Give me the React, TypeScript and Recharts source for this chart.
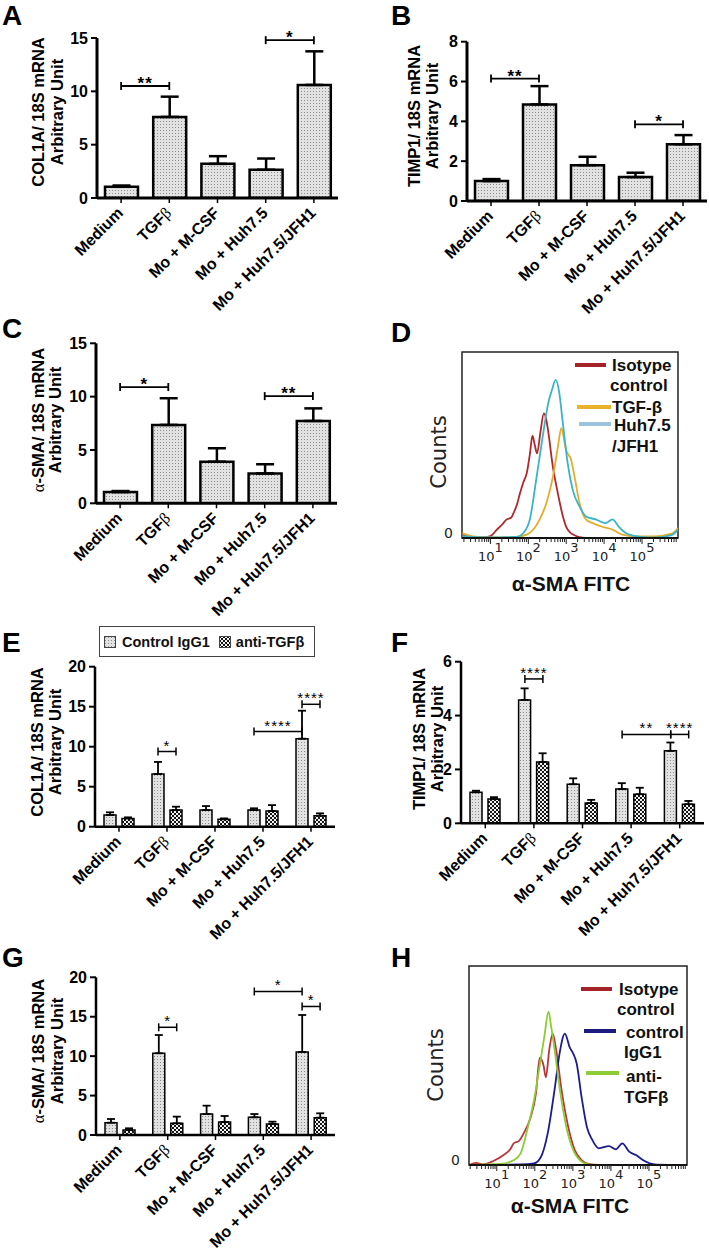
import React from 'react';
import {
  BarChart,
  Bar,
  XAxis,
  YAxis,
  ErrorBar,
  ReferenceLine,
  ReferenceArea,
  LineChart,
  Line,
  Legend,
} from 'recharts';

const SANS = '"Liberation Sans", Arial, Helvetica, sans-serif';
const FLOW = '"DejaVu Sans", Verdana, sans-serif';
const SERIF = '"Liberation Serif", "Times New Roman", serif';

// ---------- categories ----------
const categories = ['Medium', 'TGFβ', 'Mo + M-CSF', 'Mo + Huh7.5', 'Mo + Huh7.5/JFH1'];
const categoryPositions = [1, 2, 3, 4, 5];
const groupLabels = ['Control IgG1', 'anti-TGFβ'];

// ---------- Panel A : COL1A ----------
const col1aMean = [1.05, 7.6, 3.2, 2.65, 10.6];
const col1aSem = [0.12, 1.9, 0.72, 1.05, 3.15];
const col1aTicks = [0, 5, 10, 15];

// ---------- Panel B : TIMP1 ----------
const timp1Mean = [1.0, 4.85, 1.8, 1.2, 2.85];
const timp1Sem = [0.1, 0.92, 0.42, 0.22, 0.46];
const timp1Ticks = [0, 2, 4, 6, 8];

// ---------- Panel C : alpha-SMA ----------
const smaMean = [1.05, 7.35, 3.9, 2.8, 7.72];
const smaSem = [0.1, 2.5, 1.26, 0.86, 1.18];
const smaTicks = [0, 5, 10, 15];

// ---------- Panel E : COL1A +/- anti-TGFb ----------
const col1aIgG = [1.46, 6.58, 2.08, 2.08, 11.0];
const col1aIgGSem = [0.34, 1.52, 0.5, 0.22, 3.5];
const col1aAnti = [1.04, 2.08, 0.92, 1.96, 1.37];
const col1aAntiSem = [0.13, 0.42, 0.12, 0.74, 0.3];
const col1aTicksE = [0, 5, 10, 15, 20];

// ---------- Panel F : TIMP1 +/- anti-TGFb ----------
const timp1IgG = [1.15, 4.58, 1.45, 1.27, 2.69];
const timp1IgGSem = [0.06, 0.43, 0.22, 0.22, 0.31];
const timp1Anti = [0.9, 2.28, 0.75, 1.08, 0.71];
const timp1AntiSem = [0.07, 0.32, 0.12, 0.24, 0.12];
const timp1TicksF = [0, 2, 4, 6];

// ---------- Panel G : alpha-SMA +/- anti-TGFb ----------
const smaIgG = [1.56, 10.36, 2.66, 2.24, 10.53];
const smaIgGSem = [0.47, 2.32, 1.06, 0.42, 4.69];
const smaAnti = [0.63, 1.48, 1.65, 1.4, 2.2];
const smaAntiSem = [0.22, 0.85, 0.76, 0.29, 0.55];
const smaTicksG = [0, 5, 10, 15, 20];

// ---------- significance annotations ----------
type Sig = { from: number; to: number; fromBar?: number; toBar?: number; y: number; label: string };
const sigA: Sig[] = [
  { from: 0, to: 1, y: 10.5, label: '**' },
  { from: 3, to: 4, y: 14.8, label: '*' },
];
const sigB: Sig[] = [
  { from: 0, to: 1, y: 6.15, label: '**' },
  { from: 3, to: 4, y: 3.85, label: '*' },
];
const sigC: Sig[] = [
  { from: 0, to: 1, y: 10.9, label: '*' },
  { from: 3, to: 4, y: 10.05, label: '**' },
];
const sigE: Sig[] = [
  { from: 1, fromBar: 0, to: 1, toBar: 1, y: 9.4, label: '*' },
  { from: 3, fromBar: 0, to: 4, toBar: 0, y: 11.9, label: '****' },
  { from: 4, fromBar: 0, to: 4, toBar: 1, y: 15.3, label: '****' },
];
const sigF: Sig[] = [
  { from: 1, fromBar: 0, to: 1, toBar: 1, y: 5.36, label: '****' },
  { from: 3, fromBar: 0, to: 4, toBar: 0, y: 3.3, label: '**' },
  { from: 4, fromBar: 0, to: 4, toBar: 1, y: 3.3, label: '****' },
];
const sigG: Sig[] = [
  { from: 1, fromBar: 0, to: 1, toBar: 1, y: 13.66, label: '*' },
  { from: 3, fromBar: 0, to: 4, toBar: 0, y: 18.2, label: '*' },
  { from: 4, fromBar: 0, to: 4, toBar: 1, y: 16.3, label: '*' },
];

// ---------- flow cytometry histograms (x = log10 FITC, y = % of max) ----------
const flowDecades = [1, 2, 3, 4, 5];
const isotypeD = [[0.26, 1.5], [0.45, 0.6], [0.8, 0.3], [1.0, 1], [1.17, 4.5], [1.3, 7], [1.43, 10], [1.55, 11], [1.61, 13.4], [1.7, 18], [1.78, 24], [1.87, 30], [1.96, 35], [2.04, 45], [2.11, 55], [2.17, 50], [2.23, 45.5], [2.32, 57], [2.41, 67], [2.47, 64], [2.52, 58], [2.65, 38], [2.74, 28], [2.83, 19], [2.92, 11], [3.0, 6], [3.1, 3], [3.17, 2], [3.35, 0.5], [3.6, 0], [5.95, 0]];
const tgfD = [[0.26, 2.7], [0.4, 1.5], [0.7, 0.5], [1.2, 0.3], [1.61, 0.4], [1.96, 1.8], [2.3, 10], [2.48, 19], [2.65, 33], [2.78, 49], [2.87, 59], [3.0, 47], [3.13, 42], [3.22, 33], [3.35, 19], [3.52, 10], [3.7, 8], [3.96, 6], [4.22, 4.5], [4.48, 1.8], [4.83, 0.9], [5.3, 0.8], [5.78, 2.3], [5.95, 5.4]];
const jfh1D = [[0.26, 1], [0.6, 0.5], [1.2, 0.3], [1.5, 0.5], [1.7, 0.6], [1.87, 2.7], [2.04, 10], [2.22, 33], [2.39, 56], [2.52, 72], [2.63, 80], [2.72, 85], [2.81, 79], [2.91, 62], [3.04, 40], [3.17, 26], [3.35, 17], [3.52, 11.6], [3.78, 10], [4.04, 8], [4.22, 10], [4.39, 6], [4.57, 2.7], [4.83, 1], [5.26, 0.2], [5.78, 1.6], [5.95, 4.5]];

const isotypeH = [[0.27, 0], [0.46, 1], [0.64, 0.3], [0.91, 2], [1.18, 5], [1.36, 8], [1.45, 11], [1.58, 12], [1.71, 16], [1.89, 24], [2.03, 36], [2.13, 54], [2.23, 50], [2.29, 44], [2.38, 58], [2.47, 66], [2.56, 58], [2.7, 38], [2.88, 19], [3.05, 7.5], [3.23, 2.5], [3.41, 0.5], [3.68, 0], [6.0, 0]];
const igg1H = [[0.27, 0], [1.63, 0.3], [1.98, 0.8], [2.16, 4], [2.34, 16], [2.52, 38], [2.65, 56], [2.79, 66], [2.92, 59], [3.01, 56], [3.1, 51], [3.23, 34], [3.37, 19], [3.5, 13], [3.68, 8.4], [3.95, 9.5], [4.13, 7.9], [4.3, 10.9], [4.48, 6.7], [4.66, 5], [4.84, 2.5], [5.02, 0.8], [5.2, 0.2], [6.0, 0]];
const antiTgfH = [[0.27, 0], [1.09, 0.5], [1.45, 2.5], [1.63, 6], [1.8, 17.6], [1.98, 32.7], [2.12, 49], [2.25, 64.5], [2.36, 77], [2.43, 69.5], [2.52, 58], [2.65, 39], [2.83, 19], [3.01, 7.5], [3.23, 1.7], [3.41, 0.3], [3.7, 0], [6.0, 0]];

// ---------- helpers ----------
function richText(s: string) {
  return s
    .split(/([αβ])/)
    .filter((t) => t.length > 0)
    .map((t, i) =>
      /[αβ]/.test(t) ? (
        <tspan key={i} fontFamily={SERIF} fontWeight={400}>
          {t}
        </tspan>
      ) : (
        <tspan key={i}>{t}</tspan>
      ),
    );
}

const CategoryTick = (props: any) => {
  const { x, y, payload } = props;
  const name = categories[Math.round(payload.value) - 1] ?? '';
  return (
    <g transform={`translate(${x + 3},${y + 9}) rotate(-45)`}>
      <text x={0} y={0} textAnchor="end" fontFamily={SANS} fontSize={16} fontWeight={700} fill="#000">
        {richText(name)}
      </text>
    </g>
  );
};

const Bracket = (props: any) => {
  const { x1, y1, x2, label, bold, cap, sw, fs, lift } = props;
  if (x1 == null || y1 == null || x2 == null) return <g />;
  return (
    <g>
      <line x1={x1} y1={y1} x2={x2} y2={y1} stroke="#000" strokeWidth={sw} />
      <line x1={x1} y1={y1 - cap} x2={x1} y2={y1 + cap} stroke="#000" strokeWidth={sw} />
      <line x1={x2} y1={y1 - cap} x2={x2} y2={y1 + cap} stroke="#000" strokeWidth={sw} />
      <text
        x={(x1 + x2) / 2}
        y={y1 + lift}
        textAnchor="middle"
        fontFamily={SANS}
        fontSize={fs}
        fontWeight={bold ? 700 : 400}
        letterSpacing={1}
        fill="#000"
      >
        {label}
      </text>
    </g>
  );
};

const AxisTitle = ({ xs, cy, lines, fs }: any) => (
  <g>
    {lines.map((ln: string, i: number) => (
      <text
        key={i}
        transform={`translate(${xs[i]},${cy}) rotate(-90)`}
        textAnchor="middle"
        fontFamily={SANS}
        fontWeight={700}
        fontSize={fs}
        fill="#000"
      >
        {richText(ln)}
      </text>
    ))}
  </g>
);

const GroupLegend = () => (
  <div
    style={{
      width: 216,
      height: 31,
      boxSizing: 'border-box',
      border: '1.5px solid #444',
      display: 'flex',
      alignItems: 'center',
      fontFamily: SANS,
      fontWeight: 700,
      fontSize: 14.5,
      color: '#111',
      whiteSpace: 'nowrap',
      background: '#fff',
    }}
  >
    <svg width={12} height={12} style={{ marginLeft: 4, display: 'block' }}>
      <rect x={0.5} y={0.5} width={11} height={11} fill="url(#dots)" stroke="#444" />
    </svg>
    <span style={{ marginLeft: 6 }}>{groupLabels[0]}</span>
    <svg width={12} height={12} style={{ marginLeft: 9, display: 'block' }}>
      <rect x={0.5} y={0.5} width={11} height={11} fill="url(#checks)" stroke="#444" />
    </svg>
    <span style={{ marginLeft: 5 }}>{richText(groupLabels[1])}</span>
  </div>
);

type Box = { L: number; T: number; W: number; H: number };
type Plot = { l: number; t: number; r: number; b: number };
type Series = { name: string; values: number[]; errs: number[]; fill: string };

function BarPanel(p: {
  box: Box;
  plot: Plot;
  yMax: number;
  yTicks: number[];
  title: string[];
  titleXs: number[];
  titleCy: number;
  series: Series[];
  sig: Sig[];
  barSize: number;
  gap: number;
  heavy: boolean;
  legend?: boolean;
}) {
  const { box, plot } = p;
  const YW = 40;
  const XH = 40;
  const margin = {
    top: plot.t - box.T,
    left: plot.l - box.L - YW,
    right: box.L + box.W - plot.r,
    bottom: box.T + box.H - plot.b - XH,
  };
  const unit = (plot.r - plot.l) / 5;
  const half = p.series.length > 1 ? (p.barSize + p.gap) / 2 / unit : 0;
  const bx = (idx: number, bar?: number) =>
    categoryPositions[idx] + (bar === undefined ? 0 : bar === 0 ? -half : half);
  const data = categoryPositions.map((pos, i) => {
    const row: any = { pos };
    p.series.forEach((s, j) => {
      row['v' + j] = s.values[i];
      row['e' + j] = [0, s.errs[i]];
    });
    return row;
  });
  const axisW = p.heavy ? 3 : 2.5;
  const barStroke = p.heavy ? 2.5 : 1.5;
  const errW = p.heavy ? 2.5 : 1.8;
  const capW = p.heavy ? 9 : 4;
  const xs = p.titleXs.map((x) => x + 6 - box.L);
  return (
    <div style={{ position: 'absolute', left: box.L, top: box.T }}>
      <BarChart width={box.W} height={box.H} data={data} margin={margin} barGap={p.gap}>
        <XAxis
          type="number"
          dataKey="pos"
          domain={[0.5, 5.5]}
          ticks={categoryPositions}
          interval={0}
          allowDataOverflow
          height={XH}
          tickSize={5}
          tickMargin={2}
          axisLine={{ stroke: '#000', strokeWidth: axisW }}
          tickLine={{ stroke: '#000', strokeWidth: 1.5 }}
          tick={<CategoryTick />}
        />
        <YAxis
          type="number"
          domain={[0, p.yMax]}
          ticks={p.yTicks}
          interval={0}
          allowDataOverflow
          width={YW}
          tickSize={6}
          tickMargin={3}
          axisLine={{ stroke: '#000', strokeWidth: axisW }}
          tickLine={{ stroke: '#000', strokeWidth: 2 }}
          tick={{ fontSize: 16, fontWeight: 700, fill: '#000', fontFamily: SANS }}
          label={{
            content: () => <AxisTitle xs={xs} cy={p.titleCy - box.T} lines={p.title} fs={16.5} />,
          }}
        />
        {p.series.map((s, j) => (
          <Bar
            key={s.name}
            dataKey={'v' + j}
            name={s.name}
            fill={s.fill}
            stroke="#000"
            strokeWidth={barStroke}
            barSize={p.barSize}
            isAnimationActive={false}
          >
            <ErrorBar
              dataKey={'e' + j}
              direction="y"
              width={capW}
              stroke="#000"
              strokeWidth={errW}
              isAnimationActive={false}
            />
          </Bar>
        ))}
        {p.sig.map((s, k) => (
          <ReferenceLine
            key={'sig' + k}
            segment={[
              { x: bx(s.from, s.fromBar), y: s.y },
              { x: bx(s.to, s.toBar), y: s.y },
            ]}
            stroke="#000"
            ifOverflow="visible"
            shape={(lp: any) => (
              <Bracket
                {...lp}
                label={s.label}
                bold={p.heavy}
                cap={4}
                sw={p.heavy ? 1.8 : 1.5}
                fs={p.heavy ? 17 : 15}
                lift={p.heavy ? 3 : -1}
              />
            )}
          />
        ))}
        {p.legend && (
          <Legend
            layout="horizontal"
            verticalAlign="middle"
            align="center"
            wrapperStyle={{ left: 99 - box.L, top: 626 - box.T, width: 216, height: 31 }}
            content={() => <GroupLegend />}
          />
        )}
      </BarChart>
    </div>
  );
}

const FlowTick = (props: any) => {
  const { x, y, payload } = props;
  const v = payload.value;
  const n = Math.round(v);
  const major = Math.abs(v - n) < 1e-6;
  return (
    <g>
      <line x1={x} y1={y} x2={x} y2={y + (major ? 6 : 4)} stroke="#222" strokeWidth={1} />
      {major && flowDecades.includes(n) && (
        <text x={x} y={y + 22.5} textAnchor="middle" fontFamily={FLOW} fontSize={13} fill="#222">
          10
          <tspan dy={-9}>{n}</tspan>
        </text>
      )}
    </g>
  );
};

const FlowZeroTick = (props: any) => {
  const { x, y, payload } = props;
  return (
    <text x={x} y={y} textAnchor="end" fontFamily={FLOW} fontSize={14} fill="#222">
      {payload.value}
    </text>
  );
};

type Curve = { name: string; points: number[][]; color: string };
type LegendItem = { lines: string[]; color: string; lx1: number; lx2: number; ly: number; tx: number; tb: number };

function FlowPanel(p: {
  box: Box;
  plot: Plot;
  domain: number[];
  curves: Curve[];
  legend: LegendItem[];
  countsX: number;
  countsY: number;
  xlabelX: number;
  xlabelY: number;
}) {
  const { box, plot } = p;
  const YW = 30;
  const XH = 30;
  const margin = {
    top: plot.t - box.T,
    left: plot.l - box.L - YW,
    right: box.L + box.W - plot.r,
    bottom: box.T + box.H - plot.b - XH,
  };
  const ticks: number[] = [];
  [0, ...flowDecades].forEach((n) => {
    for (let k = 1; k <= 9; k++) {
      const v = n + Math.log10(k);
      if (v >= p.domain[0] && v <= p.domain[1]) ticks.push(v);
    }
  });
  return (
    <div style={{ position: 'absolute', left: box.L, top: box.T }}>
      <LineChart width={box.W} height={box.H} margin={margin}>
        <XAxis
          type="number"
          dataKey="x"
          domain={p.domain}
          ticks={ticks}
          interval={0}
          allowDataOverflow
          height={XH}
          tickLine={false}
          tickSize={0}
          tickMargin={0}
          axisLine={{ stroke: '#111', strokeWidth: 2 }}
          tick={<FlowTick />}
          label={{
            content: () => (
              <text
                x={p.xlabelX - box.L}
                y={p.xlabelY - box.T}
                textAnchor="middle"
                fontFamily={SANS}
                fontWeight={700}
                fontSize={21}
                fill="#111"
              >
                α-SMA FITC
              </text>
            ),
          }}
        />
        <YAxis
          type="number"
          domain={[0, 100]}
          ticks={[0]}
          interval={0}
          allowDataOverflow
          width={YW}
          tickLine={false}
          axisLine={false}
          tickSize={0}
          tickMargin={9}
          tick={<FlowZeroTick />}
          label={{
            content: () => (
              <text
                transform={`translate(${p.countsX - box.L},${p.countsY - box.T}) rotate(-90)`}
                textAnchor="middle"
                fontFamily={FLOW}
                fontSize={21}
                fill="#222"
              >
                Counts
              </text>
            ),
          }}
        />
        <ReferenceArea
          x1={p.domain[0]}
          x2={p.domain[1]}
          y1={0}
          y2={100}
          fill="none"
          stroke="#222"
          strokeWidth={1.5}
          ifOverflow="visible"
        />
        {p.curves.map((c) => (
          <Line
            key={c.name}
            data={c.points.map(([x, y]) => ({ x, y }))}
            dataKey="y"
            name={c.name}
            type="monotone"
            stroke={c.color}
            strokeWidth={1.8}
            dot={false}
            activeDot={false}
            isAnimationActive={false}
          />
        ))}
        <Legend
          layout="horizontal"
          verticalAlign="middle"
          align="center"
          wrapperStyle={{ left: 0, top: 0, width: box.W, height: box.H, pointerEvents: 'none' }}
          content={() => (
            <svg width={box.W} height={box.H} style={{ display: 'block' }}>
              {p.legend.map((it, i) => (
                <g key={i}>
                  <line
                    x1={it.lx1 - box.L}
                    x2={it.lx2 - box.L}
                    y1={it.ly - box.T}
                    y2={it.ly - box.T}
                    stroke={it.color}
                    strokeWidth={4}
                  />
                  {it.lines.map((t, j) => (
                    <text
                      key={j}
                      x={it.tx - box.L + (j === 0 ? 0 : -2)}
                      y={it.tb - box.T + j * 20.5}
                      fontFamily={SANS}
                      fontWeight={700}
                      fontSize={17}
                      fill="#111"
                    >
                      {t}
                    </text>
                  ))}
                </g>
              ))}
            </svg>
          )}
        />
      </LineChart>
    </div>
  );
}

export default function App() {
  const dots = 'url(#dots)';
  const checks = 'url(#checks)';
  const letters = [
    ['A', 2, 25],
    ['B', 391, 25],
    ['C', 2, 338],
    ['D', 391, 342],
    ['E', 2, 652],
    ['F', 391, 652],
    ['G', 2, 967],
    ['H', 391, 967],
  ];
  return (
    <div
      style={{
        position: 'absolute',
        left: 0,
        top: 0,
        width: 709,
        height: 1253,
        background: '#fff',
        overflow: 'hidden',
      }}
    >
      <svg width={0} height={0} style={{ position: 'absolute' }}>
        <defs>
          <pattern id="dots" width={3} height={3} patternUnits="userSpaceOnUse">
            <rect width={3} height={3} fill="#e2e2e2" />
            <rect x={1} y={1} width={1} height={1} fill="#8c8c8c" />
          </pattern>
          <pattern id="checks" width={4} height={4} patternUnits="userSpaceOnUse">
            <rect width={4} height={4} fill="#f2f2f2" />
            <rect x={0} y={0} width={2} height={2} fill="#151515" />
            <rect x={2} y={2} width={2} height={2} fill="#151515" />
          </pattern>
        </defs>
      </svg>

      <BarPanel
        box={{ L: 0, T: 0, W: 354, H: 335 }}
        plot={{ l: 97, t: 38, r: 338, b: 198 }}
        yMax={15}
        yTicks={col1aTicks}
        title={['COL1A/ 18S mRNA', 'Arbitrary Unit']}
        titleXs={[38, 57]}
        titleCy={112}
        series={[{ name: 'COL1A', values: col1aMean, errs: col1aSem, fill: dots }]}
        sig={sigA}
        barSize={33}
        gap={0}
        heavy
      />
      <BarPanel
        box={{ L: 354, T: 0, W: 355, H: 335 }}
        plot={{ l: 467, t: 41.7, r: 707, b: 201 }}
        yMax={8}
        yTicks={timp1Ticks}
        title={['TIMP1/ 18S mRNA', 'Arbitrary Unit']}
        titleXs={[414, 432]}
        titleCy={116}
        series={[{ name: 'TIMP1', values: timp1Mean, errs: timp1Sem, fill: dots }]}
        sig={sigB}
        barSize={33}
        gap={0}
        heavy
      />
      <BarPanel
        box={{ L: 0, T: 300, W: 354, H: 335 }}
        plot={{ l: 96, t: 343.3, r: 337, b: 503.3 }}
        yMax={15}
        yTicks={smaTicks}
        title={['α-SMA/ 18S mRNA', 'Arbitrary Unit']}
        titleXs={[38, 55]}
        titleCy={420}
        series={[{ name: 'α-SMA', values: smaMean, errs: smaSem, fill: dots }]}
        sig={sigC}
        barSize={33}
        gap={0}
        heavy
      />
      <FlowPanel
        box={{ L: 354, T: 300, W: 355, H: 310 }}
        plot={{ l: 462, t: 352, r: 678, b: 538 }}
        domain={[0.25, 5.95]}
        curves={[
          { name: 'Isotype control', points: isotypeD, color: '#b0282c' },
          { name: 'TGF-β', points: tgfD, color: '#e6ac2a' },
          { name: 'Huh7.5/JFH1', points: jfh1D, color: '#3ab4c6' },
        ]}
        legend={[
          { lines: ['Isotype', 'control'], color: '#a52228', lx1: 575, lx2: 606, ly: 365, tx: 612, tb: 370.5 },
          { lines: ['TGF-β'], color: '#e8b22c', lx1: 577, lx2: 611, ly: 407, tx: 612, tb: 413 },
          { lines: ['Huh7.5', '/JFH1'], color: '#9cc4dc', lx1: 579, lx2: 611, ly: 424, tx: 614, tb: 431 },
        ]}
        countsX={446}
        countsY={452}
        xlabelX={571}
        xlabelY={591}
      />
      <BarPanel
        box={{ L: 0, T: 615, W: 354, H: 335 }}
        plot={{ l: 95, t: 666.7, r: 335, b: 826.7 }}
        yMax={20}
        yTicks={col1aTicksE}
        title={['COL1A/ 18S mRNA', 'Arbitrary Unit']}
        titleXs={[37, 55]}
        titleCy={742}
        series={[
          { name: groupLabels[0], values: col1aIgG, errs: col1aIgGSem, fill: dots },
          { name: groupLabels[1], values: col1aAnti, errs: col1aAntiSem, fill: checks },
        ]}
        sig={sigE}
        barSize={12}
        gap={6}
        heavy={false}
        legend
      />
      <BarPanel
        box={{ L: 354, T: 615, W: 355, H: 335 }}
        plot={{ l: 461, t: 661.7, r: 704, b: 823.3 }}
        yMax={6}
        yTicks={timp1TicksF}
        title={['TIMP1/ 18S mRNA', 'Arbitrary Unit']}
        titleXs={[419, 437]}
        titleCy={739}
        series={[
          { name: groupLabels[0], values: timp1IgG, errs: timp1IgGSem, fill: dots },
          { name: groupLabels[1], values: timp1Anti, errs: timp1AntiSem, fill: checks },
        ]}
        sig={sigF}
        barSize={12}
        gap={6}
        heavy={false}
      />
      <BarPanel
        box={{ L: 0, T: 935, W: 354, H: 318 }}
        plot={{ l: 96, t: 977.3, r: 335, b: 1135 }}
        yMax={20}
        yTicks={smaTicksG}
        title={['α-SMA/ 18S mRNA', 'Arbitrary Unit']}
        titleXs={[38, 57]}
        titleCy={1051}
        series={[
          { name: groupLabels[0], values: smaIgG, errs: smaIgGSem, fill: dots },
          { name: groupLabels[1], values: smaAnti, errs: smaAntiSem, fill: checks },
        ]}
        sig={sigG}
        barSize={12}
        gap={6}
        heavy={false}
      />
      <FlowPanel
        box={{ L: 354, T: 935, W: 355, H: 318 }}
        plot={{ l: 469, t: 966, r: 687, b: 1165 }}
        domain={[0.27, 6.0]}
        curves={[
          { name: 'Isotype control', points: isotypeH, color: '#b8363a' },
          { name: 'control IgG1', points: igg1H, color: '#1c1c90' },
          { name: 'anti-TGFβ', points: antiTgfH, color: '#8ccc34' },
        ]}
        legend={[
          { lines: ['Isotype', 'control'], color: '#a52228', lx1: 581, lx2: 612, ly: 989, tx: 619, tb: 994.5 },
          { lines: ['control', 'IgG1'], color: '#1c1c80', lx1: 584, lx2: 616, ly: 1031, tx: 626, tb: 1037.5 },
          { lines: ['anti-', 'TGFβ'], color: '#8ccc34', lx1: 586, lx2: 619, ly: 1073, tx: 626, tb: 1082 },
        ]}
        countsX={443}
        countsY={1065}
        xlabelX={570}
        xlabelY={1213}
      />

      <svg
        width={709}
        height={1253}
        style={{ position: 'absolute', left: 0, top: 0, pointerEvents: 'none' }}
      >
        {letters.map(([t, x, y]) => (
          <text key={t as string} x={x as number} y={y as number} fontFamily={SANS} fontWeight={700} fontSize={28} fill="#000">
            {t}
          </text>
        ))}
      </svg>
    </div>
  );
}
